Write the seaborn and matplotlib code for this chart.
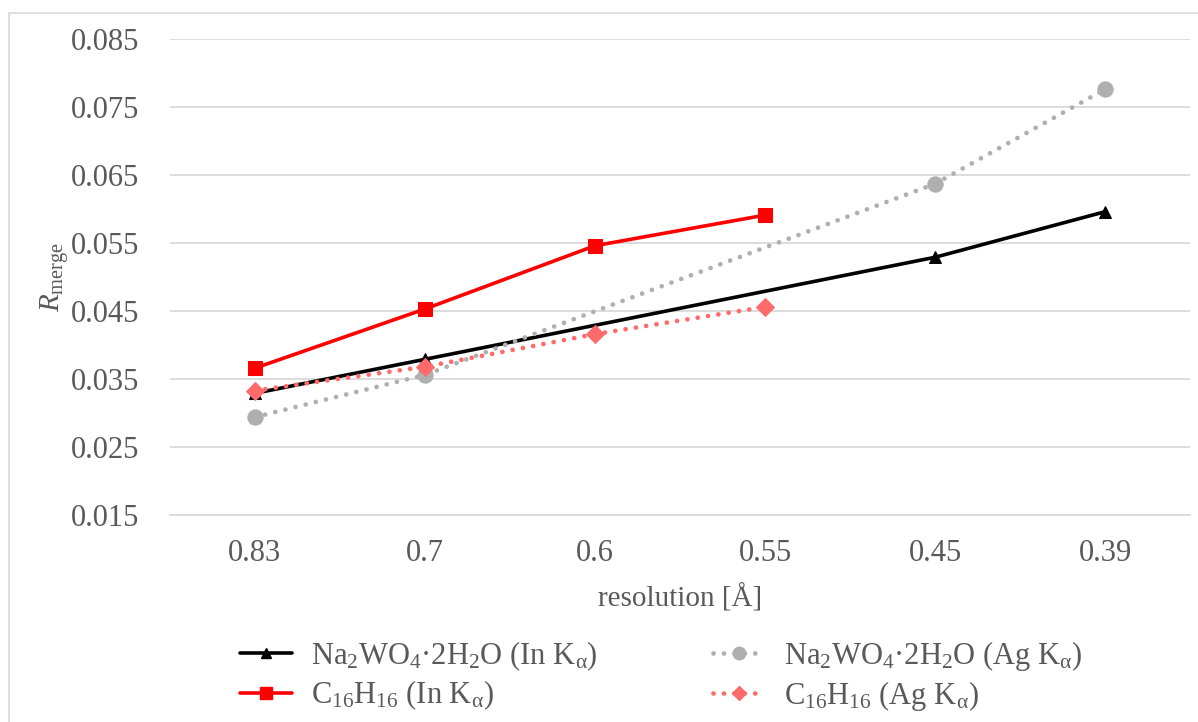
import numpy as np
import pandas as pd
import matplotlib
matplotlib.use("Agg")
import matplotlib.pyplot as plt
import seaborn as sns
from matplotlib.lines import Line2D
from matplotlib.patches import Rectangle

# ---- data ----
categories = ["0.83", "0.7", "0.6", "0.55", "0.45", "0.39"]
na_in = [0.0329, 0.0379, np.nan, np.nan, 0.0529, 0.0596]
na_ag = [0.0294, 0.0356, np.nan, np.nan, 0.0637, 0.0776]
c16_in = [0.0366, 0.0453, 0.0546, 0.0591, np.nan, np.nan]
c16_ag = [0.0333, 0.0368, 0.0416, 0.0456, np.nan, np.nan]
series_names = [
    r"Na$_2$WO$_4$·2H$_2$O (In K$_\mathrm{\alpha}$)",
    r"C$_{16}$H$_{16}$ (In K$_\mathrm{\alpha}$)",
    r"Na$_2$WO$_4$·2H$_2$O (Ag K$_\mathrm{\alpha}$)",
    r"C$_{16}$H$_{16}$ (Ag K$_\mathrm{\alpha}$)",
]
yticks = [0.015, 0.025, 0.035, 0.045, 0.055, 0.065, 0.075, 0.085]

sns.set_theme(style="white")
plt.rcParams["font.family"] = ["Liberation Serif", "DejaVu Serif"]
plt.rcParams["mathtext.fontset"] = "custom"
plt.rcParams["mathtext.rm"] = "Liberation Serif"
plt.rcParams["mathtext.it"] = "Liberation Serif:italic"
plt.rcParams["mathtext.bf"] = "Liberation Serif:bold"

rows = []
for name, vals in zip(series_names, [na_in, c16_in, na_ag, c16_ag]):
    for i, v in enumerate(vals):
        if not np.isnan(v):
            rows.append({"x": i, "y": v, "series": name})
df = pd.DataFrame(rows)

colors = {series_names[0]: "#000000", series_names[1]: "#FF0000",
          series_names[2]: "#AFAFAF", series_names[3]: "#FF6B6B"}
markers = {series_names[0]: "^", series_names[1]: "s",
           series_names[2]: "o", series_names[3]: "D"}
msize = {series_names[0]: 9, series_names[1]: 10,
         series_names[2]: 11, series_names[3]: 9}
lw = {series_names[0]: 2.6, series_names[1]: 2.6,
      series_names[2]: 3.4, series_names[3]: 3.4}
dotted = (0, (0.01, 2.2))
styles = {series_names[0]: "-", series_names[1]: "-",
          series_names[2]: dotted, series_names[3]: dotted}

fig = plt.figure(figsize=(11.98, 7.22), dpi=100)
ax = fig.add_axes([170/1198, 1-515/722, 1020/1198, 476/722])

for name in series_names:
    sub = df[df["series"] == name]
    sns.lineplot(data=sub, x="x", y="y", ax=ax, color=colors[name],
                 marker=markers[name], markersize=msize[name],
                 markeredgecolor=colors[name], linewidth=lw[name],
                 linestyle=styles[name], dash_capstyle="round",
                 label=name, legend=False)

ax.set_xlim(-0.5, 5.5)
ax.set_ylim(0.015, 0.085)
ax.set_xticks(range(len(categories)))
ax.set_xticklabels(categories)
ax.set_yticks(yticks)
ax.set_yticklabels([f"{t:.3f}" for t in yticks])
ax.grid(axis="y", color="#D9D9D9", linewidth=1.3)
ax.grid(axis="x", visible=False)
for s in ["top", "right", "left"]:
    ax.spines[s].set_visible(False)
ax.spines["bottom"].set_color("#D9D9D9")
ax.spines["bottom"].set_linewidth(1.3)
ax.tick_params(axis="y", length=0, labelsize=22, labelcolor="#595959", pad=22)
ax.tick_params(axis="x", length=0, labelsize=22, labelcolor="#595959", pad=17)
ax.set_axisbelow(True)

ax.set_xlabel("resolution [Å]", fontsize=21, color="#595959", labelpad=12)
ax.set_ylabel(r"$R_{\mathrm{merge}}$", fontsize=21, color="#595959", labelpad=0)

handles = []
for name in series_names:
    handles.append(Line2D([], [], color=colors[name], marker=markers[name],
                          markersize=msize[name] - 2, linewidth=lw[name],
                          linestyle=styles[name], dash_capstyle="round",
                          markeredgecolor=colors[name]))
leg = fig.legend(handles, series_names, ncol=2, loc="center",
                 bbox_to_anchor=(0.552, 1-676/722), frameon=False,
                 fontsize=22, handlelength=1.7, columnspacing=3.8,
                 labelspacing=0.2, handletextpad=0.6)
for t in leg.get_texts():
    t.set_color("#595959")

fig.patches.append(Rectangle((9/1198, -0.01), 1.02, 1-13/722 + 0.01,
                             transform=fig.transFigure, fill=False,
                             edgecolor="#D9D9D9", linewidth=1.2))

fig.savefig("out.png", dpi=100)
